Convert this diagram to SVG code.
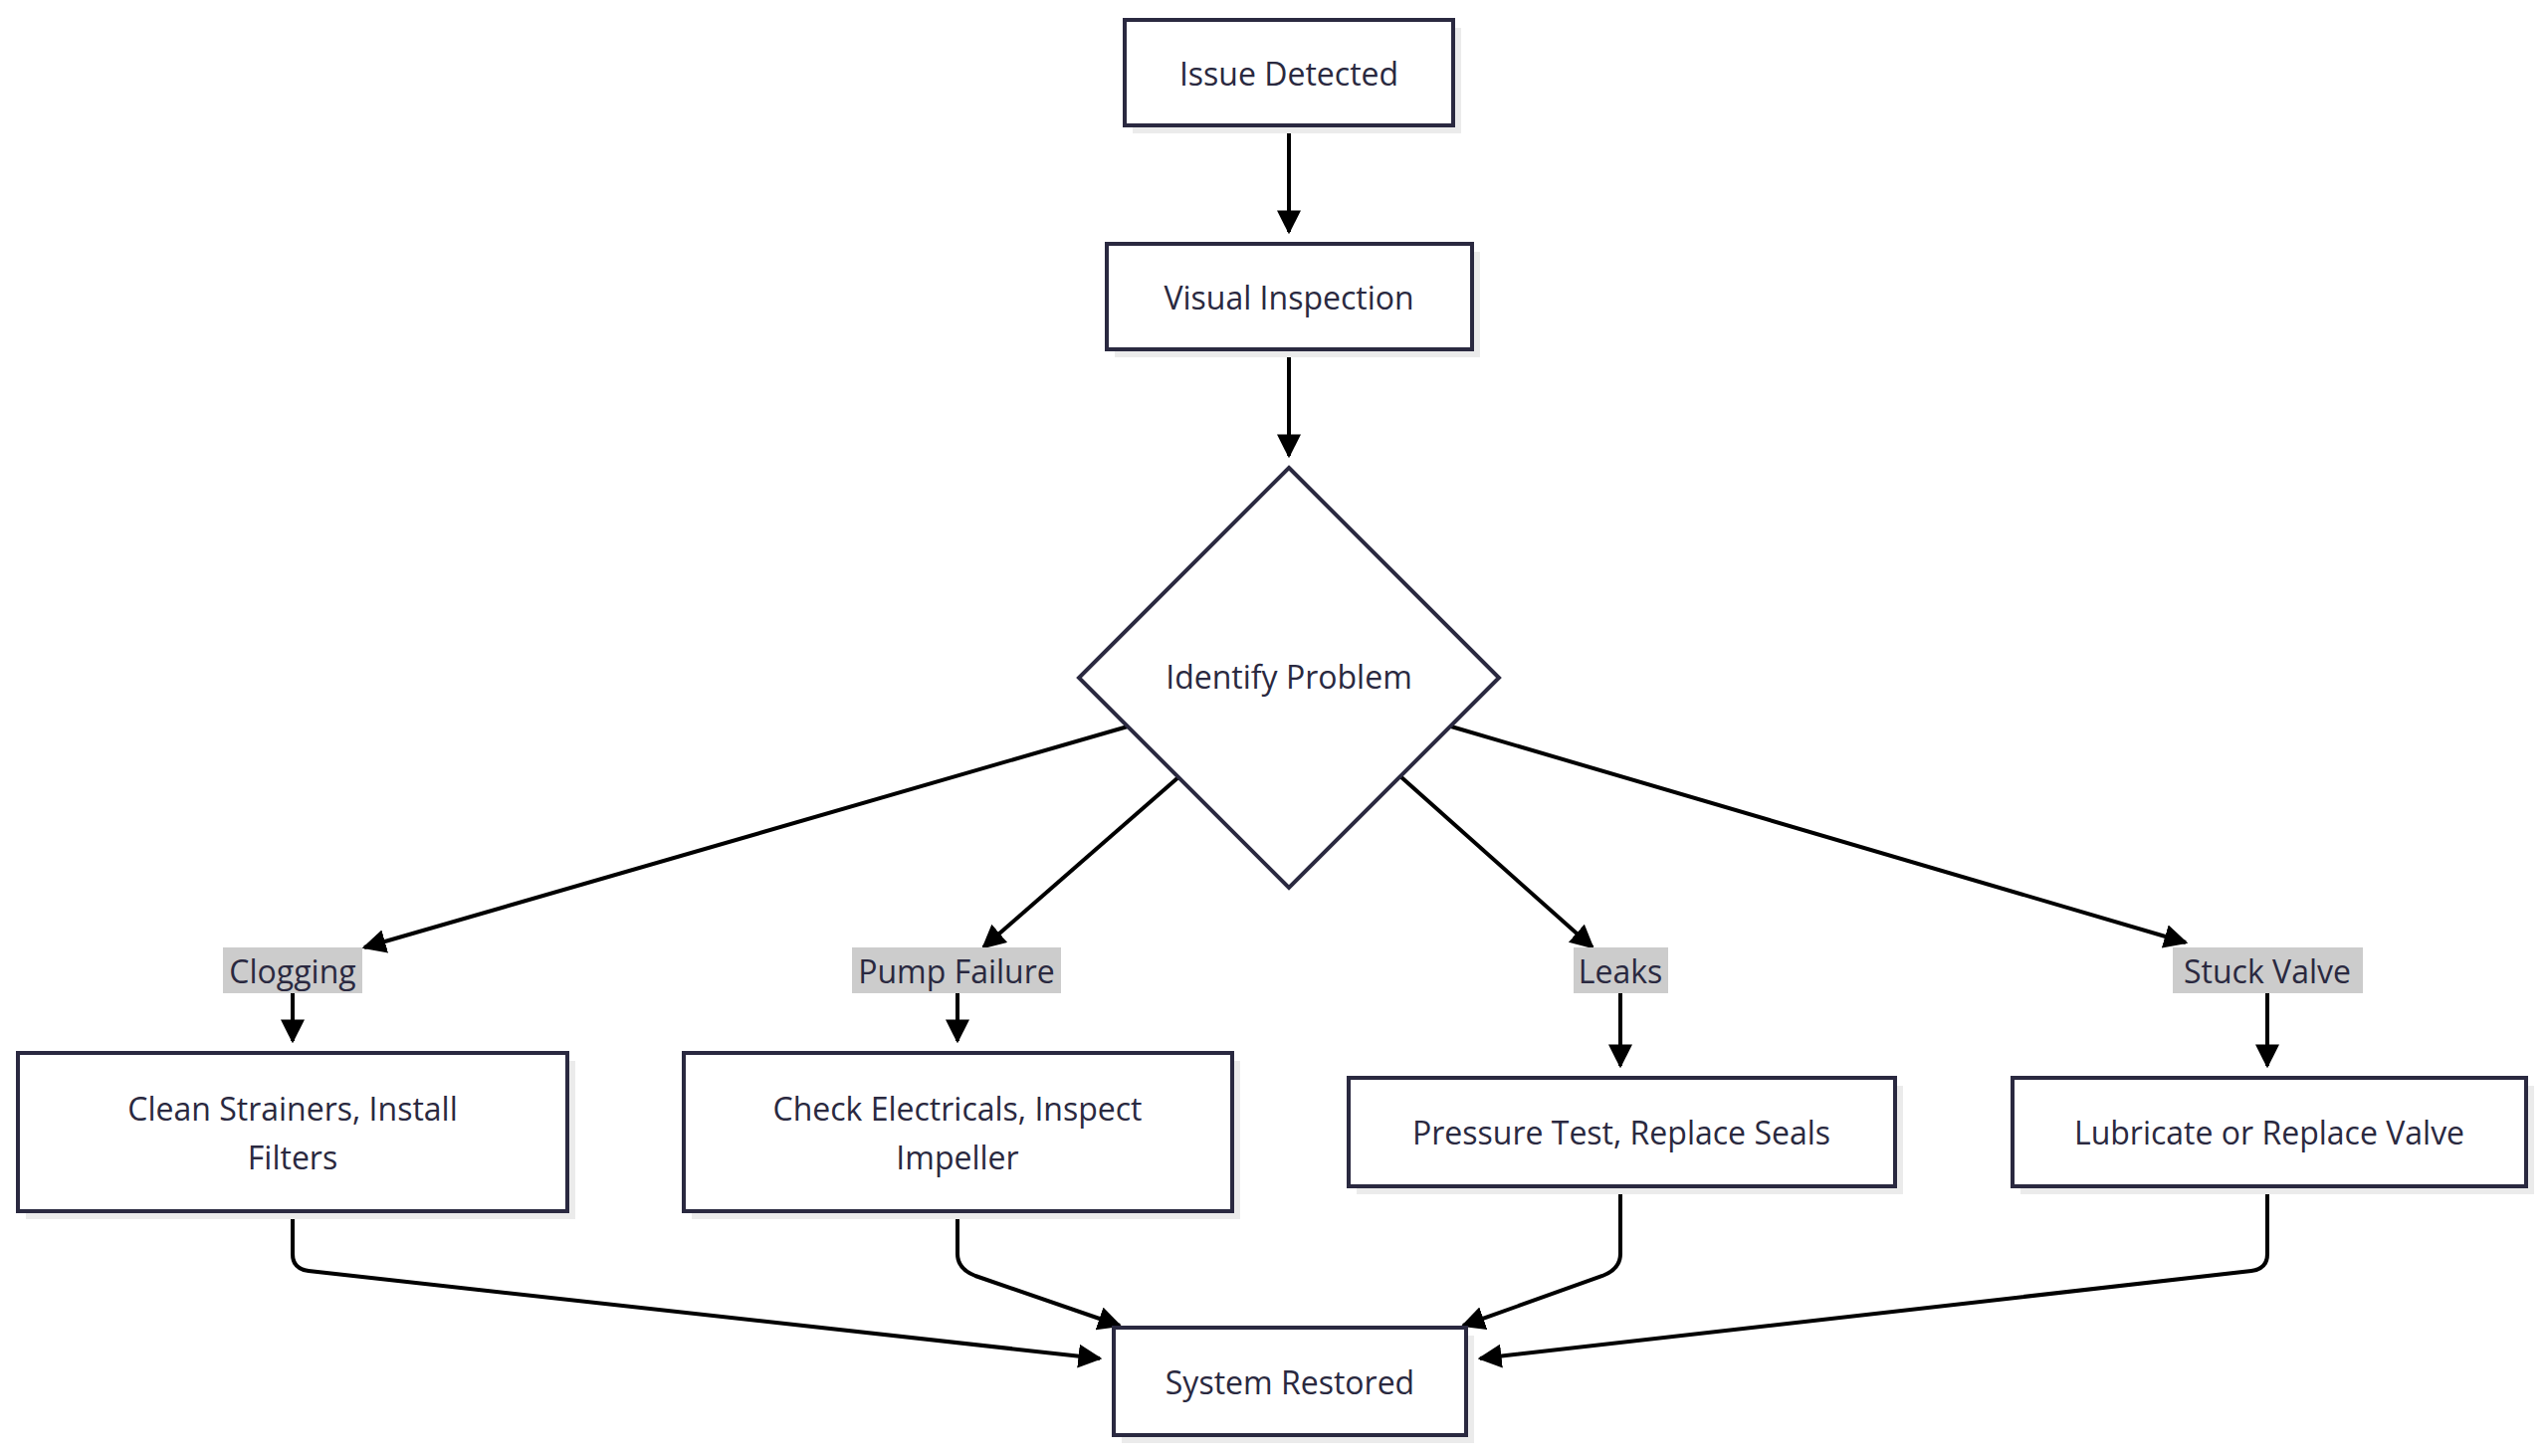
<svg xmlns="http://www.w3.org/2000/svg" width="2560" height="1463" viewBox="0 0 2560 1463">
<style>
.n{fill:#fff;stroke:#2a2940;stroke-width:4}
.sh{fill:#ebebeb}
.t{font-family:"Open Sans","Liberation Sans",sans-serif;font-size:32px;fill:#2a2940;text-anchor:middle;dominant-baseline:central}
.e{fill:none;stroke:#000;stroke-width:4;marker-end:url(#a)}
.lb{fill:#cccccc}
</style>
<defs><marker id="a" viewBox="0 0 10 10" refX="9" refY="5" markerWidth="6" markerHeight="6" markerUnits="strokeWidth" orient="auto"><path d="M0,0L10,5L0,10z" fill="#000"/></marker></defs>
<rect width="2560" height="1463" fill="#fff"/>
<g id="edges">
<path class="e" d="M1295,126V233"/>
<path class="e" d="M1295,351V458"/>
<path class="e" d="M1133,730L366,952"/>
<path class="e" d="M1184,781L988,952"/>
<path class="e" d="M1408,781L1600,952"/>
<path class="e" d="M1458,730L2196,947"/>
<path class="e" d="M294,998V1046"/>
<path class="e" d="M962,998V1046"/>
<path class="e" d="M1628,998V1071"/>
<path class="e" d="M2278,998V1071"/>
<path class="e" d="M294,1217V1260Q294,1275 310,1277L1105,1365"/>
<path class="e" d="M962,1217V1260Q962,1275 980,1282L1125,1332"/>
<path class="e" d="M1628,1192V1260Q1628,1275 1610,1282L1470,1332"/>
<path class="e" d="M2278,1192V1260Q2278,1275 2262,1277L1487,1365"/>
</g>
<g id="labels">
<rect class="lb" x="224" y="952" width="140" height="46"/><text class="t" x="294" y="975">Clogging</text>
<rect class="lb" x="856" y="952" width="210" height="46"/><text class="t" x="961" y="975">Pump Failure</text>
<rect class="lb" x="1581" y="952" width="95" height="46"/><text class="t" x="1628" y="975">Leaks</text>
<rect class="lb" x="2183" y="952" width="191" height="46"/><text class="t" x="2278" y="975">Stuck Valve</text>
</g>
<g id="n1"><rect class="sh" x="1138" y="28" width="330" height="106"/><rect class="n" x="1130" y="20" width="330" height="106"/><text class="t" x="1295" y="73">Issue Detected</text></g>
<g id="n2"><rect class="sh" x="1120" y="253" width="367" height="106"/><rect class="n" x="1112" y="245" width="367" height="106"/><text class="t" x="1295" y="298">Visual Inspection</text></g>
<g id="n3"><path class="n" d="M1295,470L1506,681L1295,892L1084,681Z"/><text class="t" x="1295" y="679">Identify Problem</text></g>
<g id="n4"><rect class="sh" x="26" y="1066" width="552" height="159"/><rect class="n" x="18" y="1058" width="552" height="159"/><text class="t" x="294" y="1113">Clean Strainers, Install</text><text class="t" x="294" y="1162">Filters</text></g>
<g id="n5"><rect class="sh" x="695" y="1066" width="551" height="159"/><rect class="n" x="687" y="1058" width="551" height="159"/><text class="t" x="962" y="1113">Check Electricals, Inspect</text><text class="t" x="962" y="1162">Impeller</text></g>
<g id="n6"><rect class="sh" x="1363" y="1091" width="549" height="109"/><rect class="n" x="1355" y="1083" width="549" height="109"/><text class="t" x="1629" y="1137">Pressure Test, Replace Seals</text></g>
<g id="n7"><rect class="sh" x="2030" y="1091" width="516" height="109"/><rect class="n" x="2022" y="1083" width="516" height="109"/><text class="t" x="2280" y="1137">Lubricate or Replace Valve</text></g>
<g id="n8"><rect class="sh" x="1127" y="1342" width="354" height="108"/><rect class="n" x="1119" y="1334" width="354" height="108"/><text class="t" x="1296" y="1388">System Restored</text></g>
</svg>
